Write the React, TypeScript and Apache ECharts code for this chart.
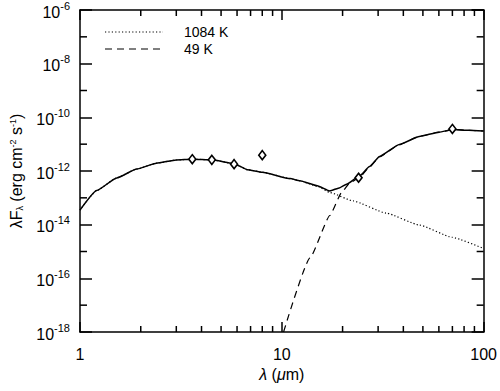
import React, { useEffect, useRef } from "react";
import * as echarts from "echarts";

// Observed photometry (wavelength in micron, lambda*F_lambda in erg cm^-2 s^-1)
const obsLambda = [3.6, 4.5, 5.8, 8.0, 24, 70];
const obsFlux = [2.75e-12, 2.6e-12, 1.8e-12, 3.9e-12, 5.6e-13, 3.7e-11];

// Total model (solid)
const totalLambda = [1.0, 1.21, 1.52, 1.91, 2.39, 3.0, 3.6, 4.5, 5.8, 6.75, 8.0, 11.0, 12.3, 15.0, 17.3, 19.4, 20.9, 24.3, 27.2, 30.5, 38.2, 48, 60.1, 70.4, 84.4, 100];
const totalFlux = [3.5e-14, 1.87e-13, 5.5e-13, 1.18e-12, 1.95e-12, 2.57e-12, 2.75e-12, 2.6e-12, 1.88e-12, 1.12e-12, 9.0e-13, 5.2e-13, 4.3e-13, 2.8e-13, 1.8e-13, 2.4e-13, 3.2e-13, 6.6e-13, 1.46e-12, 3.5e-12, 9.7e-12, 1.95e-11, 2.8e-11, 3.5e-11, 3.3e-11, 3.1e-11];

// 1084 K component (dotted)
const hotLambda = [1.0, 1.21, 1.52, 1.91, 2.39, 3.0, 3.6, 4.5, 5.8, 6.75, 8.0, 11.0, 12.3, 15.0, 17.3, 22.5, 32.9, 48, 69.6, 100];
const hotFlux = [3.5e-14, 1.87e-13, 5.5e-13, 1.18e-12, 1.95e-12, 2.57e-12, 2.75e-12, 2.6e-12, 1.88e-12, 1.12e-12, 9.0e-13, 5.2e-13, 4.3e-13, 2.7e-13, 1.58e-13, 7.7e-14, 2.7e-14, 9.7e-15, 3.4e-15, 1.29e-15];

// 49 K component (dashed)
const coldLambda = [10.2, 13.8, 17.3, 19.8, 21.7, 24.3, 27.2, 30.5, 38.2, 48, 60.1, 70.4, 84.4, 100];
const coldFlux = [1e-18, 5.8e-16, 2.2e-14, 1.6e-13, 3.6e-13, 5.8e-13, 1.4e-12, 3.4e-12, 9.6e-12, 1.95e-11, 2.8e-11, 3.5e-11, 3.3e-11, 3.1e-11];

// Axis ranges and minor tick positions
const xMin = 1;
const xMax = 100;
const yMin = 1e-18;
const yMax = 1e-6;
const xMinorTicks = [2, 3, 4, 5, 6, 7, 8, 9, 20, 30, 40, 50, 60, 70, 80, 90];
const yMinorTicks = [1e-17, 1e-15, 1e-13, 1e-11, 1e-9, 1e-7];

const legendLabels = ["1084 K", "49 K"];

const FONT = "'Liberation Sans', Arial, Helvetica, sans-serif";

function zip(a: number[], b: number[]) {
  return a.map((v, i) => [v, b[i]]);
}

function axisLine() {
  return { show: true, lineStyle: { color: "#000", width: 1.5 } };
}
function axisTick(len: number) {
  return { show: true, inside: true, length: len, lineStyle: { color: "#000", width: 1.5 } };
}

export default function App() {
  const ref = useRef<HTMLDivElement>(null);

  useEffect(() => {
    if (!ref.current) return;
    const chart = echarts.init(ref.current, undefined, { renderer: "svg" });

    const yLabelFormatter = (v: number) => {
      const e = Math.round(Math.log10(v));
      return `{b|10}{s|${e}}`;
    };

    const option: any = {
      animation: false,
      backgroundColor: "#fff",
      grid: { left: 78, right: 15, top: 4, bottom: 59 },
      xAxis: [
        {
          type: "log",
          min: xMin,
          max: xMax,
          position: "bottom",
          axisLine: axisLine(),
          axisTick: axisTick(10),
          splitLine: { show: false },
          axisLabel: { color: "#000", fontSize: 16, fontFamily: FONT, margin: 14 },
          name: "{i|λ} ({i|μ}m)",
          nameLocation: "middle",
          nameGap: 34,
          nameTextStyle: {
            color: "#000",
            fontSize: 16,
            fontFamily: FONT,
            rich: { i: { fontStyle: "italic", fontSize: 16, fontFamily: FONT, color: "#000" } },
          },
        },
        {
          type: "log",
          min: xMin,
          max: xMax,
          position: "top",
          axisLine: axisLine(),
          axisTick: axisTick(10),
          splitLine: { show: false },
          axisLabel: { show: false },
        },
      ],
      yAxis: [
        {
          type: "log",
          min: yMin,
          max: yMax,
          interval: 2,
          position: "left",
          axisLine: axisLine(),
          axisTick: axisTick(12),
          splitLine: { show: false },
          axisLabel: {
            formatter: yLabelFormatter,
            margin: 10,
            rich: {
              b: { fontSize: 16, fontFamily: FONT, color: "#000", lineHeight: 20, verticalAlign: "bottom" },
              s: { fontSize: 11, fontFamily: FONT, color: "#000", lineHeight: 20, verticalAlign: "top", padding: [0, 0, 6, 0] },
            },
          },
          name: "λF{sub|λ} (erg cm{sup|-2} s{sup|-1})",
          nameLocation: "middle",
          nameGap: 55,
          nameRotate: 90,
          nameTextStyle: {
            color: "#000",
            fontSize: 16,
            fontFamily: FONT,
            rich: {
              sub: { fontSize: 9, fontFamily: FONT, color: "#000", padding: [6, 0, 0, 0] },
              sup: { fontSize: 9, fontFamily: FONT, color: "#000", padding: [0, 0, 8, 0] },
            },
          },
        },
        {
          type: "log",
          min: yMin,
          max: yMax,
          interval: 2,
          position: "right",
          axisLine: axisLine(),
          axisTick: axisTick(12),
          splitLine: { show: false },
          axisLabel: { show: false },
        },
      ],
      series: [
        {
          name: legendLabels[0],
          type: "line",
          data: zip(hotLambda, hotFlux),
          showSymbol: false,
          symbol: "none",
          smooth: 0.15,
          smoothMonotone: "x",
          lineStyle: { color: "#000", width: 1.2, type: [1.2, 2.2] },
          z: 2,
        },
        {
          name: legendLabels[1],
          type: "line",
          data: zip(coldLambda, coldFlux),
          showSymbol: false,
          symbol: "none",
          smooth: 0.15,
          smoothMonotone: "x",
          lineStyle: { color: "#000", width: 1.2, type: [7, 5] },
          z: 2,
        },
        {
          name: "Total",
          type: "line",
          data: zip(totalLambda, totalFlux),
          showSymbol: false,
          symbol: "none",
          smooth: 0.15,
          smoothMonotone: "x",
          lineStyle: { color: "#000", width: 1.5 },
          z: 3,
        },
        {
          name: "Observed",
          type: "scatter",
          data: zip(obsLambda, obsFlux),
          symbol: "diamond",
          symbolSize: [7, 9],
          itemStyle: { color: "#fff", borderColor: "#000", borderWidth: 1.6, opacity: 1 },
          z: 4,
        },
        {
          name: "xminor",
          type: "custom",
          silent: true,
          clip: false,
          z: 5,
          data: xMinorTicks.map((v) => [v, yMin]),
          renderItem: (_p: any, api: any) => {
            const v = api.value(0);
            const b = api.coord([v, yMin]);
            const t = api.coord([v, yMax]);
            return {
              type: "group",
              children: [
                { type: "line", shape: { x1: b[0], y1: b[1], x2: b[0], y2: b[1] - 6 }, style: { stroke: "#000", lineWidth: 1.5 } },
                { type: "line", shape: { x1: t[0], y1: t[1], x2: t[0], y2: t[1] + 6 }, style: { stroke: "#000", lineWidth: 1.5 } },
              ],
            };
          },
        },
        {
          name: "yminor",
          type: "custom",
          silent: true,
          clip: false,
          z: 5,
          data: yMinorTicks.map((v) => [xMin, v]),
          renderItem: (_p: any, api: any) => {
            const v = api.value(1);
            const l = api.coord([xMin, v]);
            const r = api.coord([xMax, v]);
            return {
              type: "group",
              children: [
                { type: "line", shape: { x1: l[0], y1: l[1], x2: l[0] + 7, y2: l[1] }, style: { stroke: "#000", lineWidth: 1.5 } },
                { type: "line", shape: { x1: r[0], y1: r[1], x2: r[0] - 7, y2: r[1] }, style: { stroke: "#000", lineWidth: 1.5 } },
              ],
            };
          },
        },
      ],
      graphic: [
        {
          type: "line",
          shape: { x1: 105, y1: 32, x2: 163, y2: 32 },
          style: { stroke: "#000", lineWidth: 1.2, lineDash: [1.2, 2.2] },
        },
        {
          type: "text",
          x: 184,
          y: 32,
          style: { text: legendLabels[0], fill: "#000", font: `14px ${FONT}`, verticalAlign: "middle" },
        },
        {
          type: "line",
          shape: { x1: 105, y1: 49, x2: 163, y2: 49 },
          style: { stroke: "#000", lineWidth: 1.2, lineDash: [7, 5] },
        },
        {
          type: "text",
          x: 184,
          y: 49,
          style: { text: legendLabels[1], fill: "#000", font: `14px ${FONT}`, verticalAlign: "middle" },
        },
      ],
    };

    chart.setOption(option);
    return () => chart.dispose();
  }, []);

  return (
    <div
      ref={ref}
      style={{ position: "absolute", left: 0, top: 0, width: 500, height: 391, background: "#fff" }}
    />
  );
}
